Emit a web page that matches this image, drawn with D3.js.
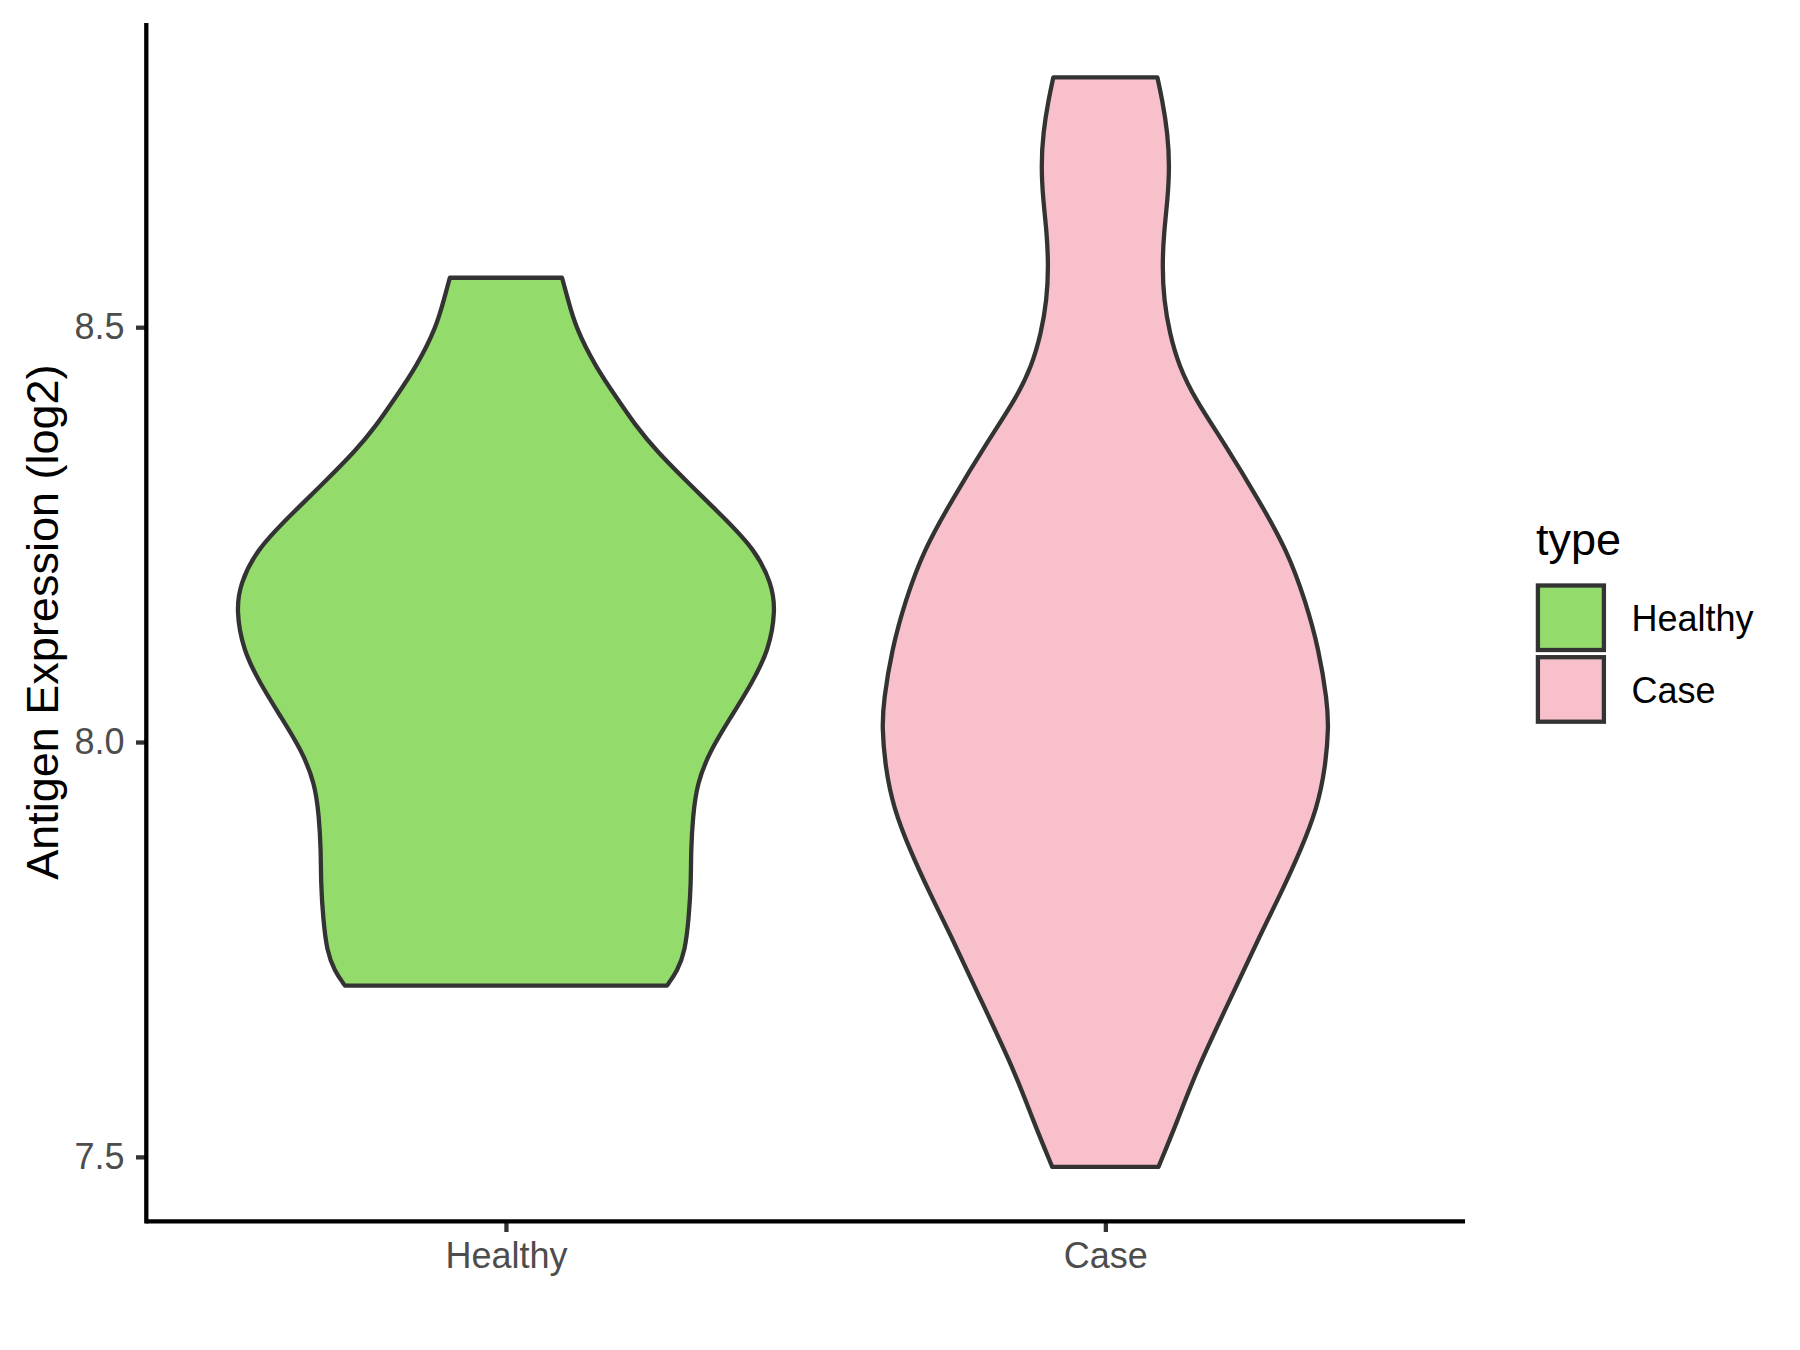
<!DOCTYPE html>
<html><head><meta charset="utf-8">
<script src="https://cdn.jsdelivr.net/npm/d3@7"></script>
<style>
html,body{margin:0;padding:0;background:#fff;}
svg{display:block;}
text{font-family:"Liberation Sans",Arial,Helvetica,sans-serif;}
</style>
</head><body>
<svg id="chart" width="1800" height="1350"></svg>
<script>
// ---- data ----
const categories = ["Healthy", "Case"];
const fillColors = ["#93DC6B", "#F7C0CB"];
const yTickValues = [7.5, 8.0, 8.5];
const yTitle = "Antigen Expression (log2)";
const legendTitle = "type";

// violin outlines: expression value and relative density (width) at that value
const healthyValues  = [8.5596, 8.5346, 8.5000, 8.4529, 8.4127, 8.3823, 8.3518, 8.3116, 8.2715, 8.2313, 8.1911, 8.1593, 8.1108, 8.0706, 8.0305, 7.9903, 7.9501, 7.9100, 7.8698, 7.8296, 7.7881, 7.7479, 7.7244, 7.7064];
const healthyDensity = [0.208, 0.229, 0.258, 0.331, 0.415, 0.479, 0.555, 0.678, 0.805, 0.925, 0.985, 1.000, 0.975, 0.911, 0.835, 0.758, 0.708, 0.693, 0.686, 0.686, 0.678, 0.664, 0.636, 0.597];
const caseValues  = [8.801, 8.774, 8.734, 8.694, 8.654, 8.614, 8.573, 8.533, 8.493, 8.453, 8.413, 8.360, 8.292, 8.231, 8.170, 8.111, 8.050, 8.018, 7.970, 7.921, 7.870, 7.817, 7.769, 7.701, 7.604, 7.543, 7.488];
const caseDensity = [0.193, 0.211, 0.231, 0.238, 0.231, 0.217, 0.211, 0.217, 0.238, 0.273, 0.333, 0.441, 0.568, 0.674, 0.742, 0.792, 0.822, 0.828, 0.816, 0.786, 0.725, 0.650, 0.576, 0.479, 0.337, 0.267, 0.197];

const groups = [
  {name: categories[0], fill: fillColors[0], values: healthyValues, density: healthyDensity},
  {name: categories[1], fill: fillColors[1], values: caseValues, density: caseDensity}
];

// ---- layout ----
const panel = {left: 146.3, right: 1465, top: 23, bottom: 1221.3};
const svg = d3.select("#chart");
const lineCol = "#333333";
const lw = 4.3;

const allVals = groups.flatMap(g => g.values);
const vmin = d3.min(allVals), vmax = d3.max(allVals);
const pad = (vmax - vmin) * 0.05;
const y = d3.scaleLinear().domain([vmin - pad, vmax + pad]).range([panel.bottom, panel.top]);
const x = d3.scalePoint().domain(categories).range([panel.left, panel.right]).padding(0.6);
const maxDens = d3.max(groups.flatMap(g => g.density));
const halfW = d3.scaleLinear().domain([0, maxDens]).range([0, 0.45 * x.step()]);

// ---- violins ----
groups.forEach(g => {
  const cx = x(g.name);
  const pts = g.values.map((v, i) => ({v, d: g.density[i]})).sort((a, b) => b.v - a.v);
  const area = d3.area()
    .y(p => y(p.v))
    .x0(p => cx - halfW(p.d))
    .x1(p => cx + halfW(p.d))
    .curve(d3.curveBasis);
  svg.append("path")
    .attr("d", area(pts))
    .attr("fill", g.fill)
    .attr("stroke", lineCol)
    .attr("stroke-width", lw)
    .attr("stroke-linejoin", "round");
});

// ---- axes ----
const yAxis = d3.axisLeft(y).tickValues(yTickValues).tickFormat(d3.format(".1f"))
  .tickSize(10.3).tickSizeOuter(0).tickPadding(11.5);
const gy = svg.append("g").attr("transform", `translate(${panel.left},0)`).call(yAxis);
gy.select(".domain").remove();
gy.selectAll(".tick line").attr("stroke", lineCol).attr("stroke-width", lw);
gy.selectAll(".tick text").attr("fill", "#4D4D4D").attr("font-size", 36)
  .attr("font-family", '"Liberation Sans",Arial,sans-serif');

const xAxis = d3.axisBottom(x).tickSize(10.7).tickSizeOuter(0).tickPadding(10.4);
const gx = svg.append("g").attr("transform", `translate(0,${panel.bottom})`).call(xAxis);
gx.select(".domain").remove();
gx.selectAll(".tick line").attr("stroke", lineCol).attr("stroke-width", lw);
gx.selectAll(".tick text").attr("fill", "#4D4D4D").attr("font-size", 36)
  .attr("font-family", '"Liberation Sans",Arial,sans-serif');

// axis lines
svg.append("line").attr("x1", panel.left).attr("x2", panel.left)
  .attr("y1", panel.top).attr("y2", panel.bottom + lw / 2)
  .attr("stroke", "#000").attr("stroke-width", lw);
svg.append("line").attr("x1", panel.left).attr("x2", panel.right)
  .attr("y1", panel.bottom).attr("y2", panel.bottom)
  .attr("stroke", "#000").attr("stroke-width", lw);

// y title
svg.append("text")
  .attr("transform", `translate(58,${(panel.top + panel.bottom) / 2}) rotate(-90)`)
  .attr("text-anchor", "middle")
  .attr("font-size", 45)
  .attr("fill", "#000")
  .text(yTitle);

// ---- legend ----
const leg = svg.append("g");
leg.append("text").attr("x", 1536).attr("y", 555).attr("font-size", 45).attr("fill", "#000").text(legendTitle);
groups.forEach((g, i) => {
  const ky = 585.5 + i * 71.7;
  leg.append("rect").attr("x", 1537.9).attr("y", ky).attr("width", 66).attr("height", 64.5)
    .attr("fill", g.fill).attr("stroke", lineCol).attr("stroke-width", lw);
  leg.append("text").attr("x", 1631.5).attr("y", ky + 45.5).attr("font-size", 36)
    .attr("fill", "#000").text(g.name);
});
</script>
</body></html>
